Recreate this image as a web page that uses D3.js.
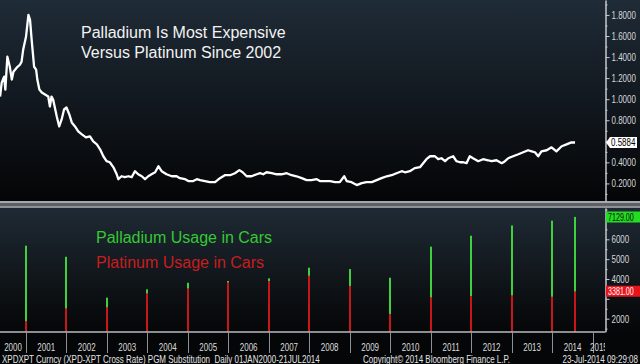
<!DOCTYPE html>
<html>
<head>
<meta charset="utf-8">
<script src="https://cdn.jsdelivr.net/npm/d3@7"></script>
<style>
  html, body { margin: 0; padding: 0; background: #000; }
  svg { display: block; }
  text { font-family: "Liberation Sans", Arial, sans-serif; }
</style>
</head>
<body>
<script>
// XPD/XPT cross rate (decimal year, ratio)
const ratioYears = [
  2000.36, 2000.40, 2000.46, 2000.49, 2000.54, 2000.60, 2000.65, 2000.69, 2000.77, 2000.85,
  2000.89, 2000.93, 2001.00, 2001.06, 2001.10, 2001.14, 2001.18, 2001.20, 2001.25, 2001.28,
  2001.33, 2001.39, 2001.47, 2001.55, 2001.59, 2001.63, 2001.67, 2001.76, 2001.82, 2001.88,
  2001.94, 2002.00, 2002.07, 2002.13, 2002.21, 2002.29, 2002.38, 2002.48, 2002.58, 2002.66,
  2002.75, 2002.83, 2002.91, 2002.99, 2003.07, 2003.16, 2003.24, 2003.28, 2003.36, 2003.44,
  2003.53, 2003.61, 2003.69, 2003.77, 2003.86, 2003.94, 2004.02, 2004.10, 2004.19, 2004.27,
  2004.35, 2004.47, 2004.60, 2004.72, 2004.80, 2004.93, 2005.01, 2005.13, 2005.22, 2005.30,
  2005.42, 2005.54, 2005.67, 2005.79, 2005.91, 2006.04, 2006.16, 2006.27, 2006.35, 2006.45,
  2006.57, 2006.70, 2006.78, 2006.86, 2006.94, 2007.07, 2007.19, 2007.31, 2007.44, 2007.56,
  2007.68, 2007.81, 2007.93, 2008.05, 2008.18, 2008.26, 2008.38, 2008.51, 2008.63, 2008.75,
  2008.86, 2008.92, 2009.04, 2009.17, 2009.29, 2009.41, 2009.54, 2009.66, 2009.78, 2009.91,
  2010.03, 2010.15, 2010.28, 2010.36, 2010.48, 2010.60, 2010.73, 2010.81, 2010.89, 2010.98,
  2011.10, 2011.18, 2011.26, 2011.35, 2011.43, 2011.55, 2011.63, 2011.72, 2011.80, 2011.88,
  2011.96, 2012.04, 2012.17, 2012.29, 2012.41, 2012.50, 2012.62, 2012.75, 2012.83, 2012.91,
  2013.03, 2013.16, 2013.28, 2013.40, 2013.49, 2013.57, 2013.65, 2013.73, 2013.86, 2013.98,
  2014.10, 2014.23, 2014.35, 2014.47, 2014.56
];
const ratioValues = [
  1.025, 1.157, 1.214, 1.091, 1.403, 1.308, 1.186, 1.261, 1.299, 1.327,
  1.355, 1.469, 1.592, 1.800, 1.753, 1.564, 1.394, 1.308, 1.280, 1.186,
  1.091, 1.063, 1.044, 1.025, 0.931, 1.025, 0.997, 0.836, 0.741, 0.808,
  0.902, 0.921, 0.855, 0.779, 0.741, 0.694, 0.666, 0.637, 0.647, 0.599,
  0.571, 0.524, 0.458, 0.411, 0.401, 0.353, 0.287, 0.240, 0.268, 0.259,
  0.268, 0.259, 0.316, 0.287, 0.268, 0.240, 0.268, 0.287, 0.306, 0.363,
  0.316, 0.287, 0.268, 0.268, 0.250, 0.240, 0.222, 0.222, 0.240, 0.231,
  0.222, 0.212, 0.212, 0.250, 0.278, 0.278, 0.297, 0.326, 0.306, 0.268,
  0.268, 0.287, 0.297, 0.287, 0.306, 0.297, 0.287, 0.287, 0.297, 0.278,
  0.268, 0.250, 0.231, 0.231, 0.240, 0.222, 0.222, 0.222, 0.212, 0.212,
  0.268, 0.222, 0.212, 0.184, 0.203, 0.212, 0.212, 0.231, 0.250, 0.268,
  0.278, 0.297, 0.316, 0.306, 0.316, 0.345, 0.354, 0.392, 0.430, 0.458,
  0.458, 0.430, 0.439, 0.411, 0.439, 0.458, 0.411, 0.401, 0.401, 0.392,
  0.458, 0.439, 0.411, 0.430, 0.420, 0.411, 0.420, 0.392, 0.411, 0.439,
  0.458, 0.477, 0.496, 0.515, 0.505, 0.496, 0.458, 0.505, 0.515, 0.543,
  0.505, 0.553, 0.571, 0.590, 0.5884
];

// autocatalyst demand (koz), plotted at the end of each year
const usageYears = [2001, 2002, 2003, 2004, 2005, 2006, 2007, 2008, 2009, 2010, 2011, 2012, 2013, 2014, 2014.55];
const palladiumUsage = [5680, 5120, 3060, 3480, 3810, 3900, 4035, 4570, 4500, 4065, 5630, 6180, 6700, 6940, 7129];
const platinumUsage  = [1880, 2520, 2575, 3280, 3530, 3835, 3900, 4165, 3650, 2240, 3080, 3145, 3180, 3110, 3381];

const yearLabels = d3.range(2000, 2016);
const ratioTicks = [0.2, 0.4, 0.6, 0.8, 1.0, 1.2, 1.4, 1.6, 1.8];
const usageTicks = [2000, 3000, 4000, 5000, 6000];

const W = 640, H = 364, plotRight = 605;
const small = 10.5;

const svg = d3.select('body').append('svg')
  .attr('width', W)
  .attr('height', H);

// squeeze small labels horizontally to look like the narrow terminal font
function narrow(sel, k = 0.76) {
  sel.each(function () {
    const t = d3.select(this);
    const tx = +t.attr('x') || 0, ty = +t.attr('y') || 0;
    t.attr('x', 0).attr('y', 0).attr('transform', `translate(${tx},${ty}) scale(${k},1)`);
  });
}

const defs = svg.append('defs');
function grad(id, c0, c1) {
  const g = defs.append('linearGradient').attr('id', id)
    .attr('x1', 0).attr('y1', 0).attr('x2', 0).attr('y2', 1);
  g.append('stop').attr('offset', '0%').attr('stop-color', c0);
  g.append('stop').attr('offset', '100%').attr('stop-color', c1);
}
grad('topBg', '#1f2b37', '#040506');
grad('botBg', '#1f2a34', '#050607');
defs.append('clipPath').attr('id', 'plotClip')
  .append('rect').attr('x', 0).attr('y', 0).attr('width', plotRight).attr('height', H);

// backgrounds
svg.append('rect').attr('width', W).attr('height', H).attr('fill', '#000');
svg.append('rect').attr('x', 0).attr('y', 0).attr('width', W).attr('height', 201).attr('fill', 'url(#topBg)');
svg.append('rect').attr('x', 0).attr('y', 201).attr('width', W).attr('height', 7).attr('fill', '#5d6166');
svg.append('rect').attr('x', 0).attr('y', 201).attr('width', W).attr('height', 2).attr('fill', '#a4a8ac');
svg.append('rect').attr('x', 0).attr('y', 206).attr('width', W).attr('height', 2).attr('fill', '#8e9297');
svg.append('rect').attr('x', 0).attr('y', 208).attr('width', W).attr('height', 124).attr('fill', 'url(#botBg)');
svg.append('rect').attr('x', 0).attr('y', 332).attr('width', W).attr('height', 32).attr('fill', '#050607');

// scales
const x = d3.scaleLinear().domain([2000.358, 2015.30]).range([0, plotRight]);
const yTop = d3.scaleLinear().domain([0.033, 1.942]).range([201, 0]);
const yBot = d3.scaleLinear().domain([1345, 7577]).range([331.7, 208]);

// ratio line
const ratioData = ratioYears.map((t, i) => ({ t, v: ratioValues[i] }));
svg.append('path')
  .datum(ratioData)
  .attr('fill', 'none')
  .attr('stroke', '#ffffff')
  .attr('stroke-width', 2.3)
  .attr('stroke-linejoin', 'round')
  .attr('d', d3.line().x(d => x(d.t)).y(d => yTop(d.v)));

// title
const title = svg.append('text')
  .attr('font-size', 16).attr('fill', '#f2f2f2');
title.append('tspan').attr('x', 81).attr('y', 38).text('Palladium Is Most Expensive');
title.append('tspan').attr('x', 81).attr('y', 58).text('Versus Platinum Since 2002');

// usage bars
const usage = usageYears.map((t, i) => ({ t, pd: palladiumUsage[i], pt: platinumUsage[i] }));
const base = yBot.range()[0];
svg.selectAll('rect.pd').data(usage).enter().append('rect')
  .attr('class', 'pd')
  .attr('x', d => Math.round(x(d.t)) - 1).attr('width', 2)
  .attr('y', d => yBot(d.pd)).attr('height', d => base - yBot(d.pd))
  .attr('fill', '#3fcf3f');
svg.selectAll('rect.pt').data(usage).enter().append('rect')
  .attr('class', 'pt')
  .attr('x', d => Math.round(x(d.t)) - 1).attr('width', 2)
  .attr('y', d => yBot(d.pt)).attr('height', d => base - yBot(d.pt))
  .attr('fill', '#c8161b');

// legend text
svg.append('text').attr('x', 96).attr('y', 243)
  .attr('font-size', 16).attr('fill', '#35c935').text('Palladium Usage in Cars');
svg.append('text').attr('x', 96).attr('y', 268)
  .attr('font-size', 16).attr('fill', '#c81e1e').text('Platinum Usage in Cars');

// right axes
function styleAxis(g) {
  g.select('.domain').attr('stroke', '#c4c8cc');
  g.selectAll('.tick line').attr('stroke', '#c4c8cc');
  g.selectAll('.tick text').attr('fill', '#d6d8da').attr('font-size', small)
    .style('font-family', '"Liberation Sans", Arial, sans-serif')
    .call(narrow);
}
const gTop = svg.append('g').attr('transform', `translate(${plotRight + 0.5},0)`)
  .call(d3.axisRight(yTop).tickValues(ratioTicks).tickFormat(d3.format('.4f')).tickSize(4).tickSizeOuter(0).tickPadding(2));
styleAxis(gTop);
const gTopMinor = svg.append('g').attr('transform', `translate(${plotRight + 0.5},0)`)
  .call(d3.axisRight(yTop).tickValues(d3.range(0.1, 1.95, 0.2)).tickFormat('').tickSize(2).tickSizeOuter(0));
styleAxis(gTopMinor);

const gBot = svg.append('g').attr('transform', `translate(${plotRight + 0.5},0)`)
  .call(d3.axisRight(yBot).tickValues(usageTicks).tickFormat(d3.format('d')).tickSize(4).tickSizeOuter(0).tickPadding(2));
styleAxis(gBot);
gBot.selectAll('.tick').filter(d => d === 3000).select('text').remove();
const gBotMinor = svg.append('g').attr('transform', `translate(${plotRight + 0.5},0)`)
  .call(d3.axisRight(yBot).tickValues(d3.range(1500, 7600, 1000)).tickFormat('').tickSize(2).tickSizeOuter(0));
styleAxis(gBotMinor);

// last value tags
function tag(yPos, text, bg, fg, arrow) {
  const g = svg.append('g');
  const h = 11, x0 = plotRight + 1;
  const pts = arrow
    ? [[x0, yPos], [x0 + 4, yPos - h / 2], [637, yPos - h / 2], [637, yPos + h / 2], [x0 + 4, yPos + h / 2]]
    : [[x0, yPos - h / 2], [W, yPos - h / 2], [W, yPos + h / 2], [x0, yPos + h / 2]];
  g.append('path').attr('d', d3.line()(pts) + 'Z').attr('fill', bg);
  g.append('text').attr('x', x0 + (arrow ? 5 : 2)).attr('y', yPos + 3.8)
    .attr('font-size', small).attr('fill', fg).text(text)
    .call(narrow, arrow ? 0.76 : 0.68);
}
tag(yTop(ratioValues[ratioValues.length - 1]), d3.format('.4f')(ratioValues[ratioValues.length - 1]), '#ffffff', '#000', true);
tag(yBot(palladiumUsage[palladiumUsage.length - 1]), d3.format('.2f')(palladiumUsage[palladiumUsage.length - 1]), '#22dd22', '#0a0a0a', false);
tag(yBot(platinumUsage[platinumUsage.length - 1]), d3.format('.2f')(platinumUsage[platinumUsage.length - 1]), '#e8141c', '#ffffff', false);

// bottom time axis
svg.append('line').attr('x1', 0).attr('x2', plotRight + 0.5).attr('y1', 332).attr('y2', 332)
  .attr('stroke', '#b8bcc0').attr('stroke-width', 1.5);
svg.append('g').selectAll('line').data(yearLabels.slice(1)).enter().append('line')
  .attr('x1', d => Math.round(x(d)) + 0.5).attr('x2', d => Math.round(x(d)) + 0.5)
  .attr('y1', 332).attr('y2', 353)
  .attr('stroke', '#8c9094');
svg.append('g').attr('clip-path', 'url(#plotClip)')
  .selectAll('text').data(yearLabels).enter().append('text')
  .attr('x', d => (Math.max(0, x(d)) + Math.min(plotRight, x(d + 1))) / 2)
  .attr('y', 351)
  .attr('text-anchor', 'middle')
  .attr('font-size', small).attr('fill', '#dcdcdc')
  .text(d => d)
  .call(narrow);

// footer
svg.append('text').attr('x', 2).attr('y', 362.5).attr('font-size', 10).attr('fill', '#e4e4e4')
  .attr('xml:space', 'preserve')
  .text('XPDXPT Curncy (XPD-XPT Cross Rate) PGM Substitution  Daily 01JAN2000-21JUL2014')
  .call(narrow, 0.8);
svg.append('text').attr('x', 363).attr('y', 362.5).attr('font-size', 10).attr('fill', '#e4e4e4')
  .text('Copyright\u00A9 2014 Bloomberg Finance L.P.')
  .call(narrow, 0.8);
svg.append('text').attr('x', 638).attr('y', 362.5).attr('text-anchor', 'end').attr('font-size', 10).attr('fill', '#e4e4e4')
  .text('23-Jul-2014 09:29:08')
  .call(narrow, 0.8);
</script>
</body>
</html>
